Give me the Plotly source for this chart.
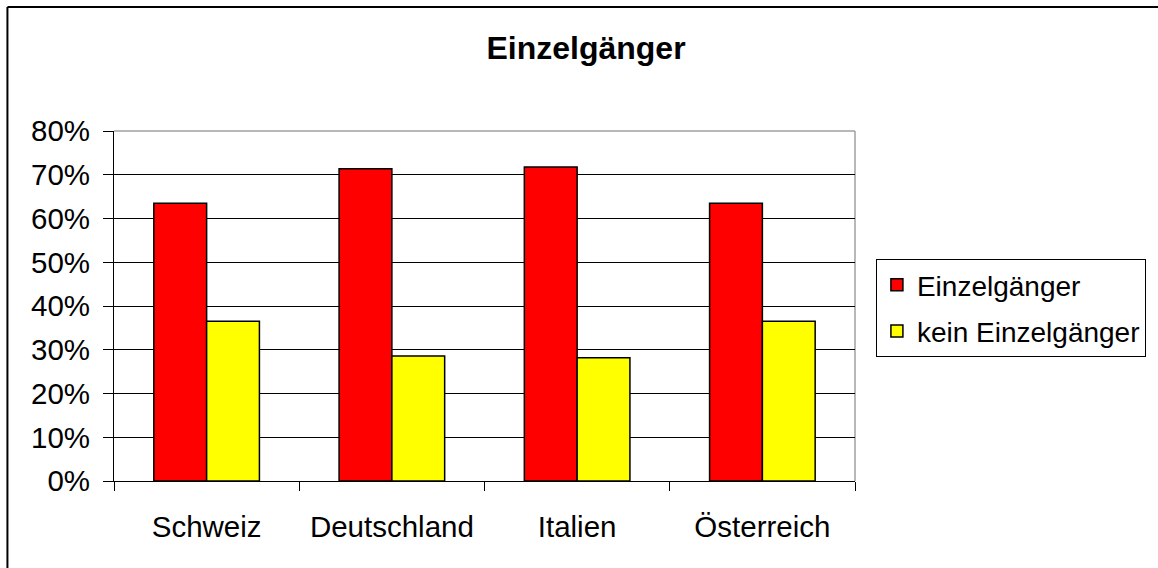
import plotly.graph_objects as go

# Data
countries = ["Schweiz", "Deutschland", "Italien", "Österreich"]
einzelgaenger = [0.635, 0.714, 0.718, 0.635]
kein_einzelgaenger = [0.365, 0.286, 0.282, 0.365]
y_ticks = [0, 0.1, 0.2, 0.3, 0.4, 0.5, 0.6, 0.7, 0.8]

W, H = 1158, 568
L, R, T, B = 114, 300, 131, 87
FONT = "Liberation Sans, Arial, sans-serif"

fig = go.Figure()
fig.add_trace(go.Bar(
    x=countries, y=einzelgaenger, name="Einzelgänger", legendgroup="a",
    marker=dict(color="#FF0000", line=dict(color="#000000", width=1.5)),
))
fig.add_trace(go.Bar(
    x=countries, y=kein_einzelgaenger, name="kein Einzelgänger", legendgroup="b",
    marker=dict(color="#FFFF00", line=dict(color="#000000", width=1.5)),
))

pw = W - L - R
ph = H - T - B
def px_x(p):
    return (p - L) / pw
def px_y(p):
    return (H - B - p) / ph

shapes = [
    # plot area frame (top and right edges)
    dict(type="line", xref="paper", yref="paper", x0=0, x1=1, y0=1, y1=1,
         line=dict(color="#a0a0a0", width=1.5), layer="below"),
    dict(type="line", xref="paper", yref="paper", x0=1, x1=1, y0=0, y1=1,
         line=dict(color="#a0a0a0", width=1.5), layer="below"),
    # chart border
    dict(type="line", xref="paper", yref="paper", x0=px_x(7), x1=px_x(W + 10),
         y0=px_y(7), y1=px_y(7), line=dict(color="#000000", width=2)),
    dict(type="line", xref="paper", yref="paper", x0=px_x(7), x1=px_x(7),
         y0=px_y(7), y1=px_y(H + 10), line=dict(color="#000000", width=2)),
]

fig.update_layout(
    width=W, height=H,
    margin=dict(l=L, r=R, t=T, b=B, pad=0),
    paper_bgcolor="white", plot_bgcolor="white",
    font=dict(family=FONT, size=28, color="#000000"),
    title=dict(text="<b>Einzelgänger</b>", font=dict(family=FONT, size=32, color="#000000"),
               xref="container", x=586 / W, xanchor="center",
               yref="container", y=1 - 48 / H, yanchor="middle"),
    barmode="group", bargap=0.43, bargroupgap=0,
    showlegend=True,
    legend=dict(x=px_x(879), xanchor="left", y=px_y(259), yanchor="top",
                traceorder="grouped", tracegroupgap=7,
                bordercolor="#000000", borderwidth=1, bgcolor="white",
                font=dict(family=FONT, size=28, color="#000000")),
    shapes=shapes,
)
fig.update_xaxes(
    showline=True, linecolor="#000000", linewidth=1,
    ticks="outside", ticklen=9, tickcolor="#000000", tickwidth=1,
    tickson="boundaries", showgrid=False, ticklabelstandoff=20,
    tickfont=dict(family=FONT, size=29.5, color="#000000"),
)
fig.update_yaxes(
    range=[0, 0.8], tickvals=y_ticks, tickformat=".0%",
    showline=True, linecolor="#000000", linewidth=1,
    ticks="outside", ticklen=10, tickcolor="#000000", tickwidth=1,
    showgrid=True, gridcolor="#000000", gridwidth=1, zeroline=False,
    ticklabelstandoff=7,
    tickfont=dict(family=FONT, size=29.5, color="#000000"),
)

fig.write_html("out.html")
